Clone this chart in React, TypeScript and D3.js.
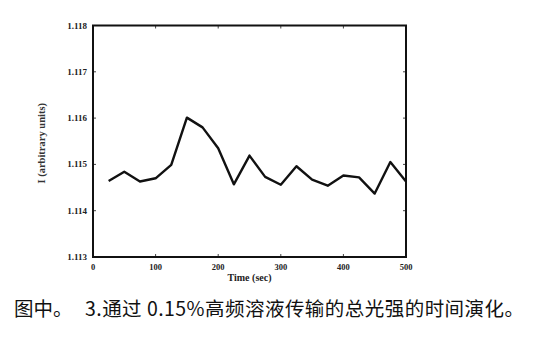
import React from "react";
import * as d3 from "d3";

const times = [25, 50, 75, 100, 125, 150, 175, 200, 225, 250, 275, 300, 325, 350, 375, 400, 425, 450, 475, 500];
const intensity = [1.11464, 1.11484, 1.11463, 1.1147, 1.11499, 1.11601, 1.1158, 1.11535, 1.11457, 1.11519, 1.11473, 1.11456, 1.11496, 1.11467, 1.11454, 1.11476, 1.11472, 1.11437, 1.11505, 1.11463];
const xTicks = [0, 100, 200, 300, 400, 500];
const yTicks = [1.113, 1.114, 1.115, 1.116, 1.117, 1.118];
const xLabel = "Time (sec)";
const yLabel = "I (arbitrary units)";
const caption1 = "图中。";
const caption2 = "3.通过 0.15%高频溶液传输的总光强的时间演化。";

const W = 537, H = 345;
const L = 93, R = 406, T = 25.5, B = 257;

export default function App() {
  const x = d3.scaleLinear().domain([0, 500]).range([L, R]);
  const y = d3.scaleLinear().domain([1.113, 1.118]).range([B, T]);
  const line = d3.line<number>().x((_, i) => x(times[i])).y((d) => y(d));
  const serif = "'Liberation Serif', 'DejaVu Serif', serif";
  const cjk = "'Noto Sans CJK SC', sans-serif";
  return (
    <svg width={W} height={H} style={{ position: "absolute", left: 0, top: 0, background: "#fff" }}>
      <rect x={0} y={0} width={W} height={H} fill="#fff" />
      {xTicks.map((t) => (
        <g key={"x" + t}>
          <line x1={x(t)} x2={x(t)} y1={B} y2={B - 3} stroke="#444" strokeWidth={1} />
          <line x1={x(t)} x2={x(t)} y1={T} y2={T + 3} stroke="#444" strokeWidth={1} />
          <text x={x(t)} y={270} textAnchor="middle" fontFamily={serif} fontWeight="bold" fontSize={8.5} fill="#222">{t}</text>
        </g>
      ))}
      {yTicks.map((t) => (
        <g key={"y" + t}>
          <line x1={L} x2={L + 3} y1={y(t)} y2={y(t)} stroke="#444" strokeWidth={1} />
          <line x1={R} x2={R - 3} y1={y(t)} y2={y(t)} stroke="#444" strokeWidth={1} />
          <text x={87} y={y(t) + 3} textAnchor="end" fontFamily={serif} fontWeight="bold" fontSize={9} fill="#222">{t.toFixed(3)}</text>
        </g>
      ))}
      <rect x={L} y={T} width={R - L} height={B - T} fill="none" stroke="#111" strokeWidth={2} />
      <path d={line(intensity) || ""} fill="none" stroke="#111" strokeWidth={2.4} strokeLinejoin="round" />
      <text x={(L + R) / 2} y={281} textAnchor="middle" fontFamily={serif} fontWeight="bold" fontSize={10} fill="#222">{xLabel}</text>
      <text transform={`translate(45, ${(T + B) / 2 + 2}) rotate(-90)`} textAnchor="middle" fontFamily={serif} fontWeight="bold" fontSize={10.5} fill="#333">{yLabel}</text>
      <text x={14} y={316} fontFamily={cjk} fontSize={19.5} fill="#111">{caption1}</text>
      <text x={85} y={316} fontFamily={cjk} fontSize={19.5} fill="#111" textLength={439} lengthAdjust="spacing">{caption2}</text>
    </svg>
  );
}
